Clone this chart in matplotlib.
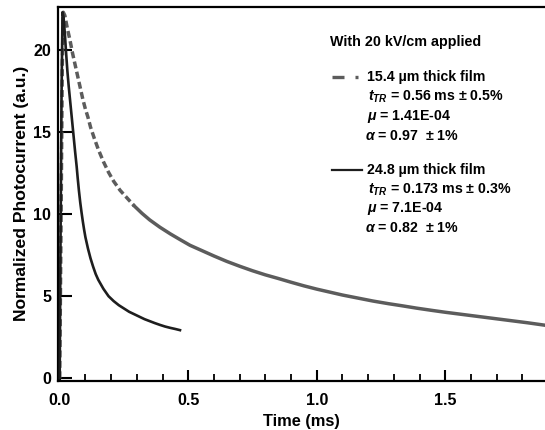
import matplotlib
matplotlib.use("Agg")
import matplotlib.pyplot as plt
import numpy as np

plt.rcParams['font.family'] = ['Liberation Sans', 'DejaVu Sans']
plt.rcParams['font.weight'] = 'bold'
plt.rcParams['mathtext.fontset'] = 'custom'
plt.rcParams['mathtext.it'] = 'Liberation Sans:italic:bold'
plt.rcParams['mathtext.rm'] = 'Liberation Sans:bold'
plt.rcParams['mathtext.bf'] = 'Liberation Sans:bold'

# 15.4 um film (gray dashed)
t_thin = [0.0, 0.005, 0.010, 0.014, 0.02, 0.03, 0.04, 0.05, 0.06, 0.07, 0.08, 0.09, 0.10,
          0.11, 0.12, 0.135, 0.15, 0.17, 0.19, 0.21, 0.235, 0.261, 0.29, 0.32, 0.35, 0.39,
          0.43, 0.468, 0.507, 0.55, 0.6, 0.65, 0.701, 0.75, 0.8, 0.85, 0.9, 0.95, 1.0,
          1.05, 1.1, 1.168, 1.22, 1.28, 1.33, 1.389, 1.45, 1.5, 1.56, 1.635, 1.7, 1.76,
          1.82, 1.888]
i_thin = [0.0, 9.0, 19.0, 22.3, 22.1, 21.3, 20.6, 19.8, 19.1, 18.4, 17.7, 17.0, 16.4,
          15.9, 15.3, 14.6, 13.95, 13.2, 12.55, 12.0, 11.45, 11.0, 10.5, 10.05, 9.65, 9.2,
          8.8, 8.45, 8.1, 7.8, 7.45, 7.12, 6.82, 6.55, 6.3, 6.08, 5.85, 5.63, 5.43,
          5.25, 5.07, 4.86, 4.7, 4.54, 4.42, 4.27, 4.13, 4.02, 3.9, 3.75, 3.62, 3.5,
          3.38, 3.23]
# 24.8 um film (black solid)
t_thick = [0.0, 0.003, 0.007, 0.011, 0.015, 0.02, 0.025, 0.03, 0.035, 0.04, 0.045, 0.05,
           0.055, 0.06, 0.066, 0.07, 0.075, 0.08, 0.085, 0.09, 0.095, 0.10, 0.11, 0.12,
           0.13, 0.14, 0.15, 0.17, 0.19, 0.21, 0.23, 0.25, 0.27, 0.29, 0.31, 0.33, 0.35,
           0.37, 0.39, 0.41, 0.43, 0.45, 0.468]
i_thick = [0.0, 8.0, 17.0, 22.3, 22.0, 21.0, 19.8, 18.7, 17.8, 17.0, 16.2, 15.4,
           14.6, 13.8, 12.9, 12.2, 11.4, 10.7, 10.1, 9.55, 9.05, 8.6, 7.9, 7.3,
           6.8, 6.35, 6.0, 5.45, 5.0, 4.7, 4.45, 4.25, 4.05, 3.9, 3.75, 3.6, 3.48,
           3.36, 3.25, 3.15, 3.07, 3.0, 2.93]

xticks = [0.0, 0.5, 1.0, 1.5]
xticklabels = ['0.0', '0.5', '1.0', '1.5']
yticks = [0, 5, 10, 15, 20]

fig = plt.figure(figsize=(5.45, 4.30), dpi=100)
ax = fig.add_axes([58/545, (430-380.7)/430, 1 - 58/545, (380.7-7)/430])

gray = '#5c5c5c'
t_thin_a = np.array(t_thin); i_thin_a = np.array(i_thin)
split = 22
ax.plot(t_thin_a[:split+1], i_thin_a[:split+1], color=gray, lw=2.5, ls=(0, (2.0, 1.0)), zorder=2)
ax.plot(t_thin_a[split:], i_thin_a[split:], color=gray, lw=2.5, ls='-', zorder=2)
ax.plot(t_thick, i_thick, color='#1e1e1e', lw=1.9, zorder=3)

ax.set_xlim(-0.0066, 1.888)
ax.set_ylim(-0.15, 22.62)
ax.set_xticks(xticks)
ax.set_xticklabels(xticklabels)
ax.set_xticks(np.arange(0.1, 1.89, 0.1), minor=True)
ax.set_yticks(yticks)
ax.tick_params(axis='both', which='major', direction='in', length=8, width=1.5, labelsize=11.5, pad=5)
ax.tick_params(axis='x', which='major', pad=9)
ax.tick_params(axis='x', which='minor', direction='in', length=5, width=1.3)
ax.tick_params(axis='y', which='major', length=10)
ax.spines['right'].set_visible(False)
for s in ['left', 'bottom', 'top']:
    ax.spines[s].set_linewidth(1.6)

ax.set_xlabel('Time (ms)', fontsize=11.8, fontweight='bold', labelpad=4)
ax.set_ylabel('Normalized Photocurrent (a.u.)', fontsize=12.6, fontweight='bold', labelpad=3)

def fx(px):
    return (px - 58) / (545 - 58)

def fy(py):
    return (380.7 - py) / (380.7 - 7)

fs = 10.2
ax.text(fx(330), fy(42), 'With 20 kV/cm applied', transform=ax.transAxes, fontsize=10.3,
        fontweight='bold', va='center', ha='left')
# legend-like marks
ax.plot([fx(332), fx(344)], [fy(77), fy(77)], transform=ax.transAxes, color=gray, lw=2.4,
        solid_capstyle='butt', clip_on=False)
ax.plot([fx(355), fx(358)], [fy(77), fy(77)], transform=ax.transAxes, color=gray, lw=2.4,
        solid_capstyle='butt', clip_on=False)
ax.plot([fx(332), fx(362)], [fy(170), fy(170)], transform=ax.transAxes, color='#1e1e1e', lw=1.6,
        clip_on=False)

lines1 = [(367, 77, '15.4 µm thick film'),
          (368, 97, r'$t_{TR}$ = 0.56 ms ± 0.5%'),
          (367, 117, r'$\mu$ = 1.41E-04'),
          (365, 136, r'$\alpha$ = 0.97  ± 1%'),
          (367, 170, '24.8 µm thick film'),
          (368, 190, r'$t_{TR}$ = 0.173 ms ± 0.3%'),
          (367, 209, r'$\mu$ = 7.1E-04'),
          (365, 228, r'$\alpha$ = 0.82  ± 1%')]
for px, py, s in lines1:
    ax.text(fx(px), fy(py), s, transform=ax.transAxes, fontsize=fs, fontweight='bold',
            va='center', ha='left')

fig.savefig('out.png', dpi=100)
